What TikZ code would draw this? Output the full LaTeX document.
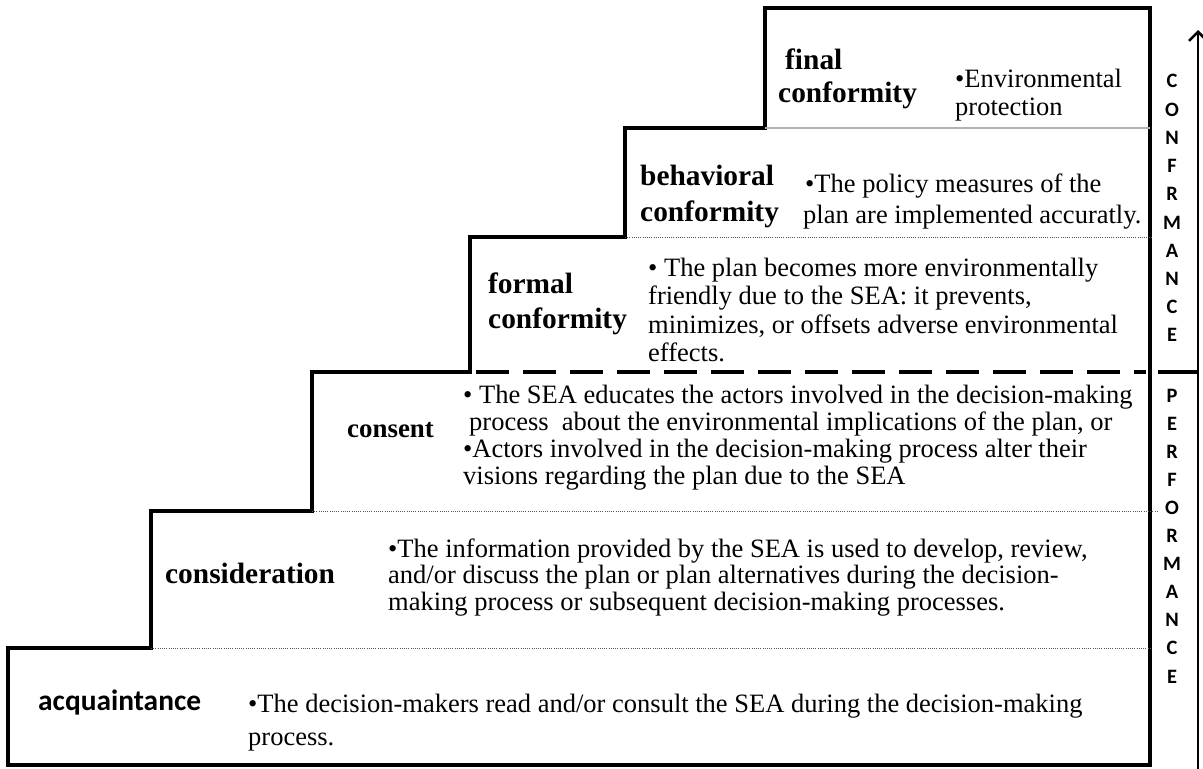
\documentclass[tikz,border=0pt]{standalone}
\usepackage{fontspec}
\setmainfont{Liberation Serif}
\newfontfamily\calibfont{Carlito}
\usetikzlibrary{arrows.meta}

% stacked lines: first baseline is the box baseline, fixed line pitch
\newcommand\rowsleft[2]{\vtop{\baselineskip=#1\lineskiplimit=-\maxdimen\lineskip=0pt\halign{##\hfil\cr#2\crcr}}}
\newcommand\rowsmid[2]{\vtop{\baselineskip=#1\lineskiplimit=-\maxdimen\lineskip=0pt\halign{\hfil##\hfil\cr#2\crcr}}}

\tikzset{
  stair/.style={line width=4bp, line join=miter},
  divider/.style={line width=4bp, dash pattern=on 33bp off 14bp, dash phase=-6bp},
  dotrule/.style={gray!70!black, line width=1bp, dash pattern=on 1bp off 1.2bp},
  thinrule/.style={gray!60, line width=1.2bp},
  steplabel/.style={anchor=base west, inner sep=0pt, font=\fontsize{29.5}{33}\selectfont\bfseries},
  sanslabel/.style={anchor=base west, inner sep=0pt, font=\calibfont\fontsize{29.5}{33}\selectfont\bfseries},
  body/.style={anchor=base west, inner sep=0pt, font=\fontsize{26.6}{28}\selectfont},
  side/.style={anchor=base, inner sep=0pt, font=\calibfont\fontsize{20.5}{28}\selectfont\bfseries},
  axis/.style={line width=2.5bp, -{Straight Barb[length=9bp,width=18bp]}},
}

\begin{document}
\begin{tikzpicture}[x=1bp, y=-1bp]
\useasboundingbox (0,0) rectangle (1203,769);

% staircase outline
\draw[stair] (8,765) -- (8,648) -- (151,648) -- (151,511) -- (312,511) -- (312,372)
  -- (470,372) -- (470,237) -- (625,237) -- (625,128) -- (765,128) -- (765,8)
  -- (1150,8) -- (1150,765) -- cycle;

% separators between the steps
\draw[dotrule] (151,648) -- (1150,648);
\draw[dotrule] (312,511) -- (1157,511);
\draw[dotrule] (625,237) -- (1153,237);
\draw[thinrule] (765,128) -- (1150,128);

% performance / conformance divider
\draw[divider] (470,372) -- (1146,372);
\coordinate (divl) at (1158,372);
\coordinate (divr) at (1198,372);
\draw[line width=4bp] (divl) -- (divr);

% upward axis
\coordinate (axisfoot) at (1198,769);
\coordinate (axishead) at (1198,30);
\draw[axis] (axisfoot) -- (axishead);

% step labels and descriptions
\node[steplabel] (finallab) at (778,70) {\rowsleft{33bp}{\kern7bp final\cr conformity}};
\node[body] (finaltxt) at (955,88) {\rowsleft{28bp}{•Environmental\cr protection}};

\node[steplabel] (behavlab) at (640,185) {\rowsleft{36.5bp}{behavioral\cr conformity}};
\node[body] (behavtxt) at (803,192) {\rowsleft{31bp}{\kern2bp•The policy measures of the\cr plan are implemented accuratly.}};

\node[steplabel] (formlab) at (488,293) {\rowsleft{35bp}{formal\cr conformity}};
\node[body] (formtxt) at (648,276) {\rowsleft{28.5bp}{• The plan becomes more environmentally\cr friendly due to the SEA: it prevents,\cr minimizes, or offsets adverse environmental\cr effects.}};

\node[steplabel, font=\fontsize{27}{30}\selectfont\bfseries] (conslab) at (347,437) {consent};
\node[body] (constxt) at (463,403) {\rowsleft{27.3bp}{• The SEA educates the actors involved in the decision-making\cr \kern6bp process~ about the environmental implications of the plan, or\cr •Actors involved in the decision-making process alter their\cr visions regarding the plan due to the SEA}};

\node[steplabel] (considlab) at (165,583) {consideration};
\node[body] (considtxt) at (388,557) {\rowsleft{26.5bp}{•The information provided by the SEA is used to develop, review,\cr and/or discuss the plan or plan alternatives during the decision-\cr making process or subsequent decision-making processes.}};

\node[sanslabel] (acqlab) at (38,710) {acquaintance};
\node[body] (acqtxt) at (248,712) {\rowsleft{33bp}{•The decision-makers read and/or consult the SEA during the decision-making\cr process.}};

% vertical captions beside the axis
\node[side] (conf) at (1172,88) {\rowsmid{28.2bp}{C\cr O\cr N\cr F\cr R\cr M\cr A\cr N\cr C\cr E}};
\node[side] (perf) at (1172,402) {\rowsmid{28.1bp}{P\cr E\cr R\cr F\cr O\cr R\cr M\cr A\cr N\cr C\cr E}};
\end{tikzpicture}
\end{document}
